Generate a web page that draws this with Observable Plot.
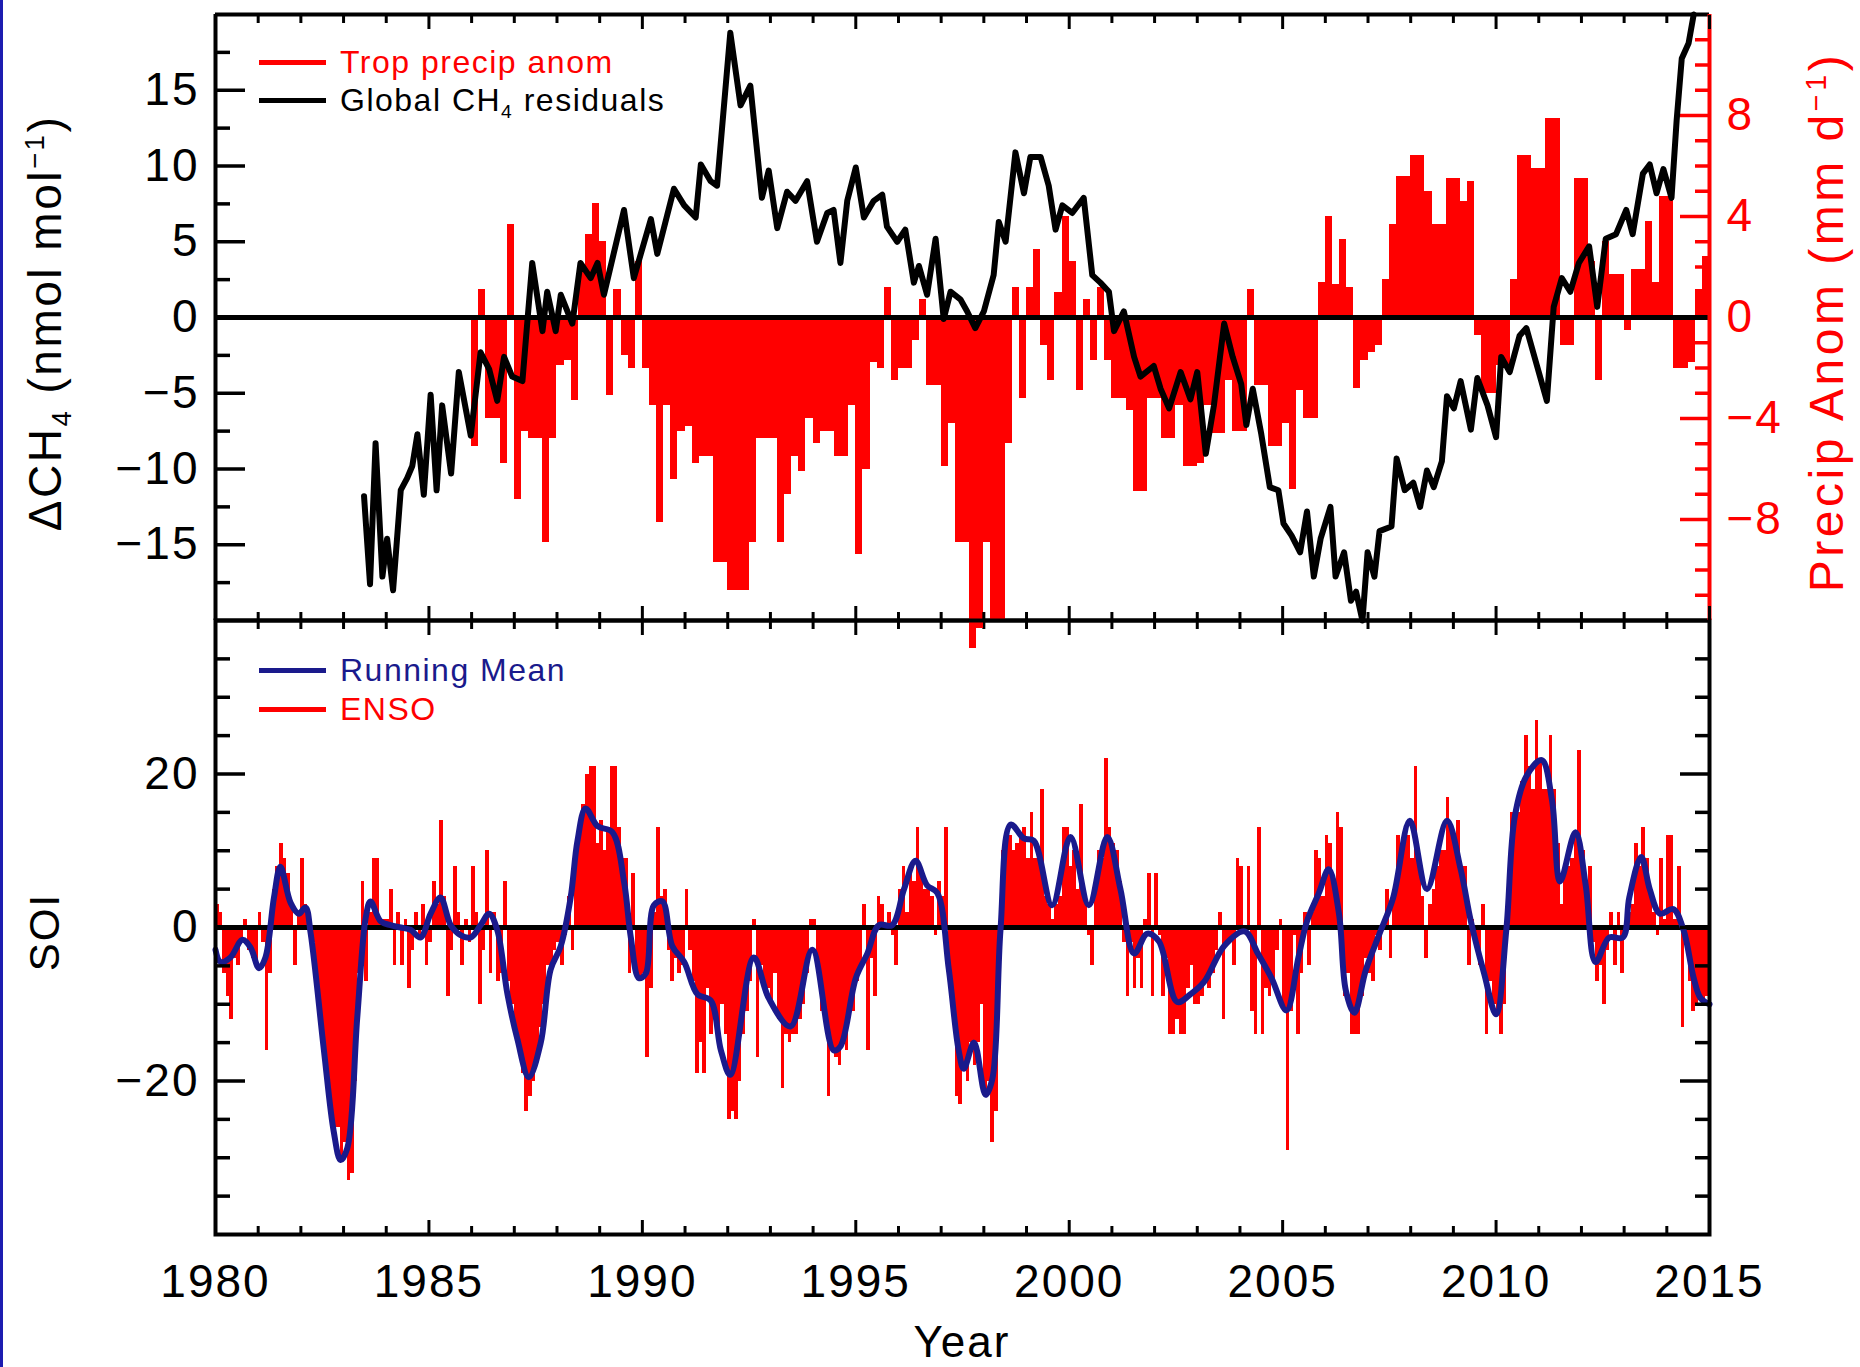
<!DOCTYPE html>
<html>
<head>
<meta charset="utf-8">
<script src="https://cdn.jsdelivr.net/npm/d3@7"></script>
<script src="https://cdn.jsdelivr.net/npm/@observablehq/plot@0.6"></script>
<style>
  body { margin: 0; background: #fff; }
  #chart { position: relative; width: 1860px; height: 1367px; overflow: hidden; background: #fff;
           font-family: "Liberation Sans", Arial, Helvetica, sans-serif; }
  #chart svg text { letter-spacing: 2px; }
  .title { position: absolute; white-space: nowrap; transform: translate(-50%, -50%); line-height: 0.8; }
  .rot { transform: translate(-50%, -50%) rotate(-90deg); }
  .leg { position: absolute; display: flex; align-items: center; height: 40px; white-space: nowrap;
         font-size: 32px; letter-spacing: 1.5px; }
  .leg .swatch { width: 67px; height: 5px; margin-right: 14px; }
  sub, sup { font-size: 0.6em; line-height: 0; }
</style>
</head>
<body>
<div id="chart"></div>
<script>
// ---- Global CH4 growth residuals (nmol mol-1) ----
const ch4Years = [
  1983.48,1983.62,1983.75,1983.91,1984.02,1984.16,1984.34,1984.49,1984.61,1984.73,1984.88,
  1985.04,1985.18,1985.31,1985.52,1985.70,1985.98,1986.21,1986.41,1986.60,1986.76,1986.95,
  1987.19,1987.42,1987.66,1987.77,1987.97,1988.09,1988.36,1988.55,1988.79,1988.95,
  1989.10,1989.57,1989.80,1990.20,1990.35,1990.74,1990.98,1991.25,1991.37,1991.60,
  1991.75,1992.06,1992.30,1992.53,1992.80,1992.96,1993.16,1993.39,1993.59,1993.86,
  1994.09,1994.33,1994.48,1994.64,1994.80,1995.00,1995.19,1995.42,1995.62,1995.73,1995.97,
  1996.16,1996.36,1996.48,1996.67,1996.87,1997.06,1997.22,1997.45,1997.61,1997.80,
  1998.00,1998.23,1998.35,1998.51,1998.74,1998.94,1999.09,1999.33,1999.52,1999.68,1999.84,
  2000.07,2000.34,2000.54,2000.73,2000.93,2001.05,2001.28,2001.52,2001.67,2001.98,
  2002.14,2002.34,2002.61,2002.84,
  2003.00,2003.20,2003.39,2003.63,2003.83,2004.03,2004.15,2004.30,2004.50,2004.70,2004.90,
  2005.02,2005.21,2005.41,2005.57,2005.73,2005.89,2006.12,2006.24,2006.44,2006.60,2006.72,2006.87,2006.99,
  2007.15,2007.27,2007.55,2007.67,2007.86,2008.06,2008.22,2008.38,2008.54,2008.73,2008.85,
  2009.01,2009.17,2009.41,2009.56,2009.80,2010.00,2010.12,2010.32,2010.55,2010.71,2010.95,
  2011.19,2011.35,2011.54,2011.74,2011.94,2012.18,2012.37,2012.57,2012.81,
  2013.05,2013.20,2013.44,2013.60,2013.76,2013.92,2014.11,2014.23,2014.35,2014.51,2014.63
];
const ch4Values = [
  -11.8,-17.6,-8.3,-17.1,-14.6,-18.0,-11.4,-10.6,-9.8,-7.7,-11.7,
  -5.1,-11.4,-5.8,-10.3,-3.6,-7.8,-2.3,-3.4,-5.5,-2.6,-3.9,
  -4.2,3.6,-0.9,1.7,-0.9,1.5,-0.4,3.6,2.6,3.6,
  1.5,7.1,2.6,6.5,4.2,8.5,7.4,6.6,10.1,9.0,
  8.7,18.8,14.0,15.3,7.9,9.7,5.9,8.3,7.7,9.0,
  5.0,6.9,7.1,3.6,7.7,9.9,6.6,7.7,8.1,6.0,5.0,
  5.8,2.3,3.4,1.5,5.2,-0.1,1.7,1.2,0.4,-0.7,
  0.4,2.8,6.3,5.0,10.9,8.2,10.6,10.6,8.7,5.8,7.4,
  6.9,7.9,2.8,2.3,1.7,-0.9,0.4,-2.6,-3.9,-3.2,
  -4.7,-6.0,-3.6,-5.4,
  -3.6,-9.0,-5.8,-0.4,-2.6,-4.4,-7.1,-4.7,-7.7,-11.2,-11.4,
  -13.6,-14.4,-15.5,-12.8,-17.1,-14.6,-12.5,-17.1,-15.5,-18.7,-18.1,-20.0,-15.5,
  -17.1,-14.1,-13.8,-9.3,-11.4,-10.9,-12.5,-10.1,-11.2,-9.5,-5.2,
  -6.0,-4.2,-7.4,-4.0,-5.8,-7.9,-2.6,-3.6,-1.2,-0.7,-3.1,
  -5.5,0.7,2.6,1.7,3.6,4.7,0.7,5.2,5.5,
  7.1,5.5,9.5,10.1,8.2,9.8,7.9,13.0,17.1,18.1,20.0
];

// ---- Tropical precipitation anomaly (mm d-1), two-month bins from Jan 1986 ----
const precipStart = 1986;
const precipValues = [
  -5.1, 1.1, -4.0, -4.0, -5.8, 3.7,     // 1986
  -7.2, -4.5, -4.8, -4.8, -8.9, -4.8,   // 1987
  -1.9, -1.7, -3.3, 2.0, 3.3, 4.5,      // 1988
  3.0, -3.1, 1.1, -1.5, -2.0, 2.2,      // 1989
  -2.0, -3.5, -8.1, -3.5, -6.4, -4.5,   // 1990
  -4.3, -5.8, -5.5, -5.5, -9.7, -9.7,   // 1991
  -10.8, -10.8, -10.8, -8.9, -4.8, -4.8,// 1992
  -4.8, -8.9, -7.0, -5.5, -6.1, -4.0,   // 1993
  -5.0, -4.5, -4.5, -5.5, -5.5, -3.5,   // 1994
  -9.4, -6.0, -1.8, -2.0, 1.2, -2.5,    // 1995
  -2.0, -2.0, -0.9, 0.7, -2.7, -2.7,    // 1996
  -5.9, -4.2, -8.9, -8.9, -13.1, -12.3, // 1997
  -8.9, -12.0, -12.0, -5.0, 1.2, -3.2,  // 1998
  1.2, 2.7, -1.1, -2.5, 1.0, 4.0,       // 1999
  2.2, -2.9, 0.7, -1.7, 1.2, -1.7,      // 2000
  -3.2, -3.2, -3.7, -6.9, -6.9, -3.2,   // 2001
  -3.2, -4.8, -4.8, -3.5, -5.9, -5.9,   // 2002
  -5.8, -3.5, -4.6, -4.6, -2.5, -4.5,   // 2003
  -4.5, 1.1, -2.7, -2.7, -5.1, -5.1,    // 2004
  -4.2, -6.8, -2.9, -4.0, -4.0, 1.4,    // 2005
  4.0, 1.3, 3.1, 1.2, -2.8, -1.7,       // 2006
  -1.4, -1.1, 1.5, 3.7, 5.6, 5.6,       // 2007
  6.4, 6.4, 5.0, 3.7, 3.7, 5.5,         // 2008
  5.5, 4.6, 5.4, -0.7, -3.0, -3.0,      // 2009
  -1.9, -1.9, 1.5, 6.4, 6.4, 5.9,       // 2010
  5.9, 7.9, 7.9, -1.1, -1.1, 5.5,       // 2011
  5.5, 2.2, -2.5, 3.0, 1.7, 1.7,        // 2012
  -0.5, 1.9, 1.9, 3.8, 1.4, 4.8,        // 2013
  4.8, -2.0, -2.0, -1.8, 1.1, 2.4       // 2014
];

// ---- Southern Oscillation Index, monthly from Jan 1980 ----
const soiStart = 1980;
const soiValues = [
  3, 2, -6, -9, -12, -4, -5, -2, 1, -3, -4, -5,            // 1980
  2, -2, -16, -6, 5, 8, 11, 9, 7, 3, -5, 2,                // 1981
  9, 3, 1, -2, -8, -12, -16, -20, -24, -27, -26, -30,      // 1982
  -28, -33, -32, -20, -6, 6, -7, 2, 9, 9, 1, 1,            // 1983
  1, 5, -5, 2, -5, 1, -8, -3, 2, -1, 3, -5,                // 1984
  -2, 6, 3, 14, 4, -9, -3, 8, 2, -5, 1, -2,                // 1985
  8, 2, -10, -3, 10, -6, 2, -7, -6, 6, -7, -10,            // 1986
  -13, -16, -19, -24, -22, -20, -17, -13, -10, -5, -6, -3, // 1987
  -2, -5, -1, 4, -3, 10, 14, 16, 20, 21, 21, 11,           // 1988
  14, 10, 13, 21, 21, 13, 9, 9, -6, 7, -6, -7,             // 1989
  -6, -17, -8, 2, 13, 4, 5, -3, -7, -4, -6, -5,            // 1990
  5, -3, -7, -19, -15, -19, -8, -14, -12, -14, -10, -14,   // 1991
  -25, -24, -25, -20, -14, -11, -7, 1, -17, -5, -8, -8,    // 1992
  -10, -6, -12, -21, -14, -15, -14, -14, -12, -10, -6, 1,  // 1993
  1, -6, -11, -12, -22, -16, -17, -18, -15, -16, -11, -11, // 1994
  -7, -5, 3, -16, -4, -9, 4, 3, 0, 2, -1, -5,              // 1995
  5, 8, 2, 8, 6, 13, 7, 5, 5, 4, -1, 6,                    // 1996
  4, 13, -5, -10, -22, -23, -18, -20, -15, -18, -15, -10,  // 1997
  -22, -20, -28, -24, -5, 10, 12, 12, 10, 11, 12, 13,      // 1998
  9, 15, 9, 10, 18, 4, 3, 1, 3, 4, 13, 13,                 // 1999
  8, 10, 5, 16, 4, -1, -5, 5, 10, 9, 22, 13,               // 2000
  11, 10, 6, -2, -9, -2, -8, -4, -8, 1, 7, -9,             // 2001
  7, -1, -9, -4, -14, -14, -12, -14, -14, -8, -5, -10,     // 2002
  -10, -9, -7, -8, -6, -3, 2, -12, -2, -2, -5, 9,          // 2003
  8, 0, 8, -11, -14, 13, -14, -8, -9, -7, -3, 1,           // 2004
  -11, -29, -11, -1, -14, -6, 2, -5, 2, 10, 9, 4,          // 2005
  12, 11, 5, 15, 13, -9, -6, -14, -14, -14, -9, -4,        // 2006
  -6, -7, -1, -3, 0, 5, -4, 5, 12, 10, 12, 12,             // 2007
  9, 21, 8, 4, -4, 3, 5, 8, 10, 10, 17, 13,                // 2008
  12, 14, 8, 8, -5, 1, -2, -5, 3, -14, -7, -10,            // 2009
  -11, -14, -10, 3, 15, 14, 15, 19, 25, 21, 18, 27,        // 2010
  22, 18, 18, 25, 18, 11, 3, 8, 8, 9, 12, 23,              // 2011
  10, 6, 8, -2, -7, -5, -10, -3, 2, -5, 2, -6,             // 2012
  -1, 2, 3, 11, 8, 13, 9, 5, 2, -1, 9, 1,                  // 2013
  12, 12, 1, 8, -13, -2, -7, -11, -10, -9, -10, -9         // 2014
];

// ---- SOI running mean ----
const meanYears = [
  1980.00,1980.12,1980.35,1980.63,1980.82,1981.02,1981.17,1981.37,1981.52,1981.76,1981.95,
  1982.11,1982.23,1982.54,1982.77,1982.93,1983.09,1983.32,1983.52,1983.63,1983.87,
  1984.10,1984.34,1984.57,1984.80,1985.04,1985.27,1985.51,1985.74,1985.98,
  1986.21,1986.41,1986.60,1986.84,1987.07,1987.34,1987.62,1987.85,
  1988.09,1988.32,1988.48,1988.67,1988.95,1989.30,1989.57,1989.73,1989.92,
  1990.08,1990.27,1990.47,1990.70,1990.98,1991.29,1991.60,1991.84,
  1992.06,1992.61,1992.96,1993.47,1993.98,1994.48,1994.64,
  1995.00,1995.27,1995.54,1995.85,1996.13,1996.40,1996.67,1996.91,
  1997.18,1997.41,1997.53,1997.77,1998.04,1998.20,1998.39,1998.63,1998.94,
  1999.17,1999.60,2000.03,2000.46,2000.89,2001.20,2001.52,2001.83,
  2002.10,2002.53,2002.84,2003.16,2003.63,2004.11,2004.42,2004.74,
  2005.09,2005.37,2005.57,2005.85,2006.08,2006.32,2006.48,2006.68,2006.95,
  2007.27,2007.59,2007.98,2008.38,2008.85,2009.17,2009.41,2009.72,
  2010.00,2010.24,2010.44,2010.71,2011.07,2011.31,2011.50,2011.86,
  2012.10,2012.33,2012.65,2012.97,2013.12,2013.40,2013.60,2013.84,
  2014.15,2014.39,2014.63,2014.79,2015.00
];
const meanValues = [
  -2.9,-4.5,-3.9,-1.6,-2.6,-5.3,-3.9,3.9,7.9,3.2,1.8,
  2.6,-0.8,-16,-26.6,-30.3,-28.7,-11.8,1.3,3.4,0.8,
  0.3,0,-0.3,-1.3,1.8,3.9,0.3,-1,-1.3,
  0.3,1.8,-0.3,-8.7,-14.5,-19.5,-15,-5.5,
  -2.4,3.9,11.3,15.5,13.2,12.4,6,-1.3,-6.6,
  -6,2.9,3.4,-2.4,-4.5,-8.7,-9.5,-16,
  -19.2,-3.9,-9.2,-12.9,-2.9,-16,-15.5,
  -6.6,-3.4,0.3,0.3,5,8.7,5.5,4.5,
  -5.5,-16,-18.4,-15,-21.8,-19.7,-0.3,13.4,11.6,
  11.3,2.9,11.8,2.9,11.8,5,-3.4,-0.8,
  -1.8,-9.7,-8.7,-7.1,-2.4,-0.5,-3.4,-6.6,
  -10.8,-3.9,0.8,4.5,7.6,1.8,-8.2,-11.1,-5.5,
  -0.8,3.9,13.9,5,13.9,7.6,0.8,-6,
  -11.3,-0.3,14.5,19.7,21.8,16.6,6,12.4,
  5.5,-4.5,-1.3,-1.3,3.9,9.2,5,1.8,
  2.4,-0.3,-6.6,-9.2,-10
];

// ---- Axis ticks ----
const yearLabels = [1980, 1985, 1990, 1995, 2000, 2005, 2010, 2015];
const yearMinor = d3.range(1981, 2015).filter(y => y % 5 !== 0);
const ch4Labels = [-15, -10, -5, 0, 5, 10, 15];
const ch4Minor = [-17.5, -12.5, -7.5, -2.5, 2.5, 7.5, 12.5, 17.5];
const precipLabels = [-8, -4, 0, 4, 8];
const precipMinor = d3.range(-11, 12).filter(v => v % 4 !== 0);
const soiLabels = [-20, 0, 20];
const soiMinor = [-35, -30, -25, -15, -10, -5, 5, 10, 15, 25, 30, 35];

// ---- Tables for the marks ----
const ch4 = ch4Years.map((year, i) => ({year, value: ch4Values[i]}));
const precip = precipValues.map((value, i) => ({x1: precipStart + i / 6, x2: precipStart + (i + 1) / 6, value}));
const soi = soiValues.map((value, i) => ({x1: soiStart + i / 12, x2: soiStart + (i + 1) / 12, value}));
const runningMean = meanYears.map((year, i) => ({year, value: meanValues[i]}));

// ---- Layout ----
const WIDTH = 1860;
const M_LEFT = 215, M_RIGHT = WIDTH - 1709;
const TOP_SVG_H = 700, TOP_FRAME_TOP = 14, SPLIT = 620;
const BOTTOM_SVG_H = 747, BOTTOM_FRAME_H = 614;
const RED = "#ff0000", NAVY = "#1a1a8c";
const FONT = "'Liberation Sans', Arial, Helvetica, sans-serif";
const LABEL_SIZE = 46;
const svgStyle = {background: "transparent", overflow: "visible", fontFamily: FONT};
const chart = document.getElementById("chart");

const noText = () => "";

// Inward tick marks along an x edge
function xEdgeTicks(anchor) {
  return [
    Plot.axisX(yearLabels, {anchor, tickSize: -14, tickFormat: noText, strokeWidth: 3, label: null}),
    Plot.axisX(yearMinor, {anchor, tickSize: -8, tickFormat: noText, strokeWidth: 3, label: null})
  ];
}
// Inward tick marks along a y edge
function yEdgeTicks(anchor, major, minor, stroke = "black") {
  return [
    Plot.axisY(major, {anchor, tickSize: -30, tickFormat: noText, stroke, strokeWidth: 3.5, label: null}),
    Plot.axisY(minor, {anchor, tickSize: -15, tickFormat: noText, stroke, strokeWidth: 3.5, label: null})
  ];
}

function place(svg, top) {
  svg.style.position = "absolute";
  svg.style.left = "0px";
  svg.style.top = top + "px";
  chart.appendChild(svg);
}

// Bottom panel: SOI with running mean
const soiPlot = Plot.plot({
  width: WIDTH, height: BOTTOM_SVG_H,
  marginLeft: M_LEFT, marginRight: M_RIGHT, marginTop: 0, marginBottom: BOTTOM_SVG_H - BOTTOM_FRAME_H,
  style: svgStyle,
  x: {domain: [1980, 2015]},
  y: {domain: [-40, 40]},
  marks: [
    Plot.rect(soi, {x1: "x1", x2: "x2", y1: 0, y2: "value", fill: RED, shapeRendering: "crispEdges"}),
    Plot.ruleY([0], {stroke: "black", strokeWidth: 5}),
    Plot.line(runningMean, {x: "year", y: "value", stroke: NAVY, strokeWidth: 6, curve: "catmull-rom", strokeLinejoin: "round"}),
    Plot.frame({stroke: "black", strokeWidth: 4}),
    ...yEdgeTicks("left", soiLabels, soiMinor),
    ...yEdgeTicks("right", soiLabels, soiMinor),
    ...xEdgeTicks("top"),
    ...xEdgeTicks("bottom"),
    Plot.axisY(soiLabels, {anchor: "left", tickSize: 0, tickPadding: 16, fontSize: LABEL_SIZE, fill: "black", label: null}),
    Plot.axisX(yearLabels, {anchor: "bottom", tickSize: 0, tickPadding: 30, fontSize: LABEL_SIZE, fill: "black", tickFormat: d => String(d), label: null})
  ]
});
place(soiPlot, SPLIT);

// Top panel, back layer: precipitation anomaly bars and right-hand axis
const precipPlot = Plot.plot({
  width: WIDTH, height: TOP_SVG_H,
  marginLeft: M_LEFT, marginRight: M_RIGHT, marginTop: TOP_FRAME_TOP, marginBottom: TOP_SVG_H - SPLIT,
  style: svgStyle,
  x: {domain: [1980, 2015], axis: null},
  y: {domain: [-12, 12]},
  marks: [
    Plot.rect(precip, {x1: "x1", x2: "x2", y1: 0, y2: "value", fill: RED, shapeRendering: "crispEdges"}),
    ...yEdgeTicks("right", precipLabels, precipMinor, RED),
    Plot.axisY(precipLabels, {anchor: "right", tickSize: 0, tickPadding: 17, fontSize: LABEL_SIZE, fill: RED, label: null})
  ]
});
place(precipPlot, 0);

// Top panel, front layer: CH4 residuals, zero line, frame and left axis
const ch4Plot = Plot.plot({
  width: WIDTH, height: TOP_SVG_H,
  marginLeft: M_LEFT, marginRight: M_RIGHT, marginTop: TOP_FRAME_TOP, marginBottom: TOP_SVG_H - SPLIT,
  style: svgStyle,
  x: {domain: [1980, 2015]},
  y: {domain: [-20, 20]},
  marks: [
    Plot.ruleY([0], {stroke: "black", strokeWidth: 5}),
    Plot.line(ch4, {x: "year", y: "value", stroke: "black", strokeWidth: 6, strokeLinejoin: "round"}),
    Plot.ruleY([-20, 20], {stroke: "black", strokeWidth: 4}),
    Plot.ruleX([1980], {stroke: "black", strokeWidth: 4}),
    Plot.ruleX([2015], {stroke: RED, strokeWidth: 4}),
    ...yEdgeTicks("left", ch4Labels, ch4Minor),
    ...xEdgeTicks("top"),
    ...xEdgeTicks("bottom"),
    Plot.axisY(ch4Labels, {anchor: "left", tickSize: 0, tickPadding: 16, fontSize: LABEL_SIZE, fill: "black", label: null})
  ]
});
place(ch4Plot, 0);

// ---- Titles and legends ----
function addTitle(html, x, y, opts = {}) {
  const d = document.createElement("div");
  d.className = "title" + (opts.rotate ? " rot" : "");
  d.innerHTML = html;
  d.style.left = x + "px";
  d.style.top = y + "px";
  d.style.fontSize = (opts.size || 44) + "px";
  d.style.letterSpacing = (opts.spacing || 2) + "px";
  d.style.color = opts.color || "black";
  chart.appendChild(d);
}
addTitle("ΔCH<sub>4</sub> (nmol mol<sup>−1</sup>)", 45, 323, {rotate: true, size: 46, spacing: 2.5});
addTitle("SOI", 45, 932, {rotate: true, size: 42, spacing: 2});
addTitle("Precip Anom (mm d<sup>−1</sup>)", 1827, 322, {rotate: true, size: 48, spacing: 3.5, color: RED});
addTitle("Year", 962, 1342, {size: 44, spacing: 2});

function addLegend(x, y, lineColor, textColor, html) {
  const d = document.createElement("div");
  d.className = "leg";
  d.style.left = x + "px";
  d.style.top = (y - 20) + "px";
  d.style.color = textColor;
  d.innerHTML = `<span class="swatch" style="background:${lineColor}"></span><span>${html}</span>`;
  chart.appendChild(d);
}
addLegend(259, 62, RED, RED, "Trop precip anom");
addLegend(259, 100, "black", "black", "Global CH<sub>4</sub> residuals");
addLegend(259, 670, NAVY, NAVY, "Running Mean");
addLegend(259, 709, RED, RED, "ENSO");

// slide edge on the left
const edge = document.createElement("div");
edge.style.cssText = "position:absolute;left:0;top:0;width:3px;height:1367px;background:#1c1cb0;";
chart.appendChild(edge);
</script>
</body>
</html>
